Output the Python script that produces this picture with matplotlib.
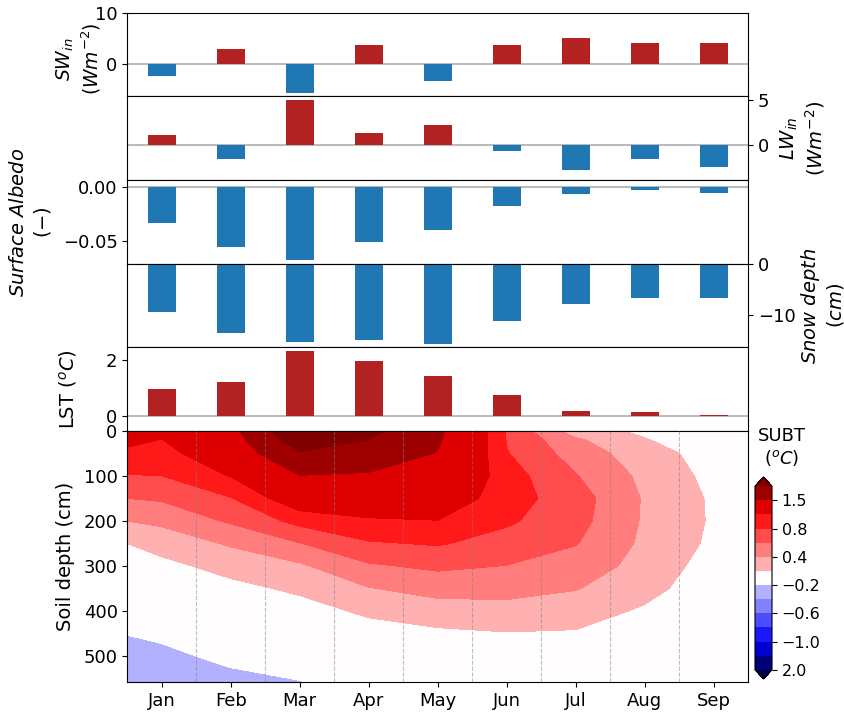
import numpy as np
import matplotlib
matplotlib.use("Agg")
import matplotlib.pyplot as plt

months = ["Jan", "Feb", "Mar", "Apr", "May", "Jun", "Jul", "Aug", "Sep"]
sw_in = [-2.4, 2.9, -5.75, 3.7, -3.55, 3.7, 5.1, 4.1, 4.1]
lw_in = [1.1, -1.55, 5.0, 1.33, 2.2, -0.67, -2.78, -1.55, -2.4]
albedo = [-0.0334, -0.0555, -0.0675, -0.0509, -0.0399, -0.0178, -0.0067, -0.003, -0.0058]
snow_depth = [-9.4, -13.5, -15.3, -14.9, -15.7, -11.2, -7.8, -6.7, -6.7]
lst = [0.96, 1.21, 2.32, 1.96, 1.43, 0.75, 0.18, 0.14, 0.04]

# soil temperature change grid (columns at month positions incl. panel edges)
subt_x = [-0.5, 0, 1, 2, 3, 4, 5, 6, 7, 8, 8.5]
subt_depth = [0, 20, 50, 100, 150, 200, 250, 300, 350, 400, 450, 500, 556]
subt = [
    [1.13, 1.05, 1.36, 2.47, 2.14, 1.58, 0.78, 0.29, 0.16, 0.05, 0.03],
    [1.06, 0.995, 1.29, 2.27, 1.99, 1.545, 0.79, 0.43, 0.21, 0.08, 0.05],
    [0.95, 0.92, 1.19, 1.97, 1.75, 1.484, 0.81, 0.51, 0.29, 0.11, 0.07],
    [0.79, 0.80, 1.01, 1.49, 1.455, 1.323, 0.89, 0.61, 0.35, 0.14, 0.09],
    [0.60, 0.625, 0.79, 1.168, 1.205, 1.161, 0.89, 0.69, 0.38, 0.17, 0.11],
    [0.40, 0.444, 0.627, 0.863, 0.967, 0.995, 0.83, 0.67, 0.375, 0.175, 0.11],
    [0.20, 0.277, 0.425, 0.593, 0.78, 0.818, 0.72, 0.61, 0.36, 0.16, 0.10],
    [0.10, 0.147, 0.268, 0.37, 0.574, 0.639, 0.595, 0.51, 0.33, 0.11, 0.07],
    [0.00, 0.045, 0.146, 0.235, 0.39, 0.47, 0.468, 0.41, 0.27, 0.07, 0.04],
    [-0.10, -0.057, 0.048, 0.123, 0.234, 0.311, 0.33, 0.294, 0.17, 0.03, 0.02],
    [-0.195, -0.16, -0.05, 0.02, 0.12, 0.16, 0.19, 0.18, 0.09, 0.0, 0.0],
    [-0.27, -0.25, -0.15, -0.085, 0.03, 0.06, 0.10, 0.10, 0.03, -0.02, -0.02],
    [-0.33, -0.32, -0.26, -0.205, -0.07, -0.04, 0.00, 0.02, -0.02, -0.04, -0.03],
]
levels = [-2.0, -1.5, -1.0, -0.8, -0.6, -0.4, -0.2, 0.2, 0.4, 0.6, 0.8, 1.0, 1.5, 2.0]
cb_ticks = [1.5, 0.8, 0.4, -0.2, -0.6, -1.0, -2.0]
cb_labels = ["1.5", "0.8", "0.4", "\u22120.2", "\u22120.6", "\u22121.0", "2.0"]

RED = "#b22222"
BLUE = "#1f77b4"

fig = plt.figure(figsize=(8.45, 7.15), dpi=100)
W, H = 845.0, 715.0
L, R = 127.3, 748.3

def mkax(top, bot):
    return fig.add_axes([L / W, (H - bot) / H, (R - L) / W, (bot - top) / H])

ax_sw = mkax(13.3, 96.3)
ax_lw = mkax(96.3, 180.0)
ax_al = mkax(180.0, 264.0)
ax_sn = mkax(264.0, 347.3)
ax_ls = mkax(347.3, 430.7)
ax_c = mkax(430.7, 682.3)
cax = fig.add_axes([755 / W, (H - 679) / H, 17 / W, 202.0 / H])

x = np.arange(len(months))
fs = 13

def bars(ax, vals, ylim, yticks, side, zcol="#bbbbbb"):
    cols = [RED if v >= 0 else BLUE for v in vals]
    ax.bar(x, vals, width=0.4, color=cols, zorder=2)
    ax.axhline(0, color=zcol, lw=1.5, zorder=1)
    ax.set_xlim(-0.5, 8.5)
    ax.set_ylim(*ylim)
    ax.set_xticks([])
    ax.set_yticks(yticks)
    ax.tick_params(axis="y", labelsize=fs)
    if side == "right":
        ax.yaxis.tick_right()
        ax.yaxis.set_label_position("right")

bars(ax_sw, sw_in, (-6.5, 10.0), [0, 10], "left")
ax_sw.axhline(10, color="#bbbbbb", lw=1.2, zorder=1)
bars(ax_lw, lw_in, (-3.9, 5.4), [0, 5], "right")
bars(ax_al, albedo, (-0.0712, 0.0062), [-0.05, 0.0], "left")
bars(ax_sn, snow_depth, (-16.3, 0.0), [-10, 0], "right", zcol="#666666")
bars(ax_ls, lst, (-0.51, 2.46), [0, 2], "left")

lab_kw = dict(fontsize=14, ha="center", va="center", multialignment="center")
ax_sw.set_ylabel("$SW_{in}$\n$(Wm^{-2})$", fontsize=13.5, ha="center",
                 va="center", multialignment="center")
ax_sw.yaxis.set_label_coords(-0.078, 0.45)
ax_lw.set_ylabel("$LW_{in}$\n$(Wm^{-2})$", **lab_kw)
ax_lw.yaxis.set_label_coords(1.088, 0.5)
ax_al.set_ylabel("$Surface\\ Albedo$\n$(-)$", **lab_kw)
ax_al.yaxis.set_label_coords(-0.155, 0.5)
ax_sn.set_ylabel("$Snow\\ depth$\n$(cm)$", **lab_kw)
ax_sn.yaxis.set_label_coords(1.12, 0.5)
ax_ls.set_ylabel("LST ($^oC$)", **lab_kw)
ax_ls.yaxis.set_label_coords(-0.095, 0.5)

# contour panel
X, Y = np.meshgrid(subt_x, subt_depth)
cf = ax_c.contourf(X, Y, np.array(subt), levels=levels, cmap="seismic", extend="both")
for xv in np.arange(0.5, 8.0, 1.0):
    ax_c.axvline(xv, color="grey", lw=0.8, ls="--", alpha=0.5, zorder=3)
ax_c.set_xlim(-0.5, 8.5)
ax_c.set_ylim(558, 0)
ax_c.set_yticks([0, 100, 200, 300, 400, 500])
ax_c.set_xticks(x)
ax_c.set_xticklabels(months)
ax_c.tick_params(labelsize=fs)
ax_c.set_ylabel("Soil depth (cm)", **lab_kw)
ax_c.yaxis.set_label_coords(-0.1, 0.5)

cb = fig.colorbar(cf, cax=cax, ticks=cb_ticks)
cb.ax.set_yticklabels(cb_labels)
cb.ax.tick_params(labelsize=11.5)
fig.text(782 / W, (H - 427) / H, "SUBT\n($^oC$)", ha="center", va="top", fontsize=13)

fig.savefig("out.png", dpi=100)
